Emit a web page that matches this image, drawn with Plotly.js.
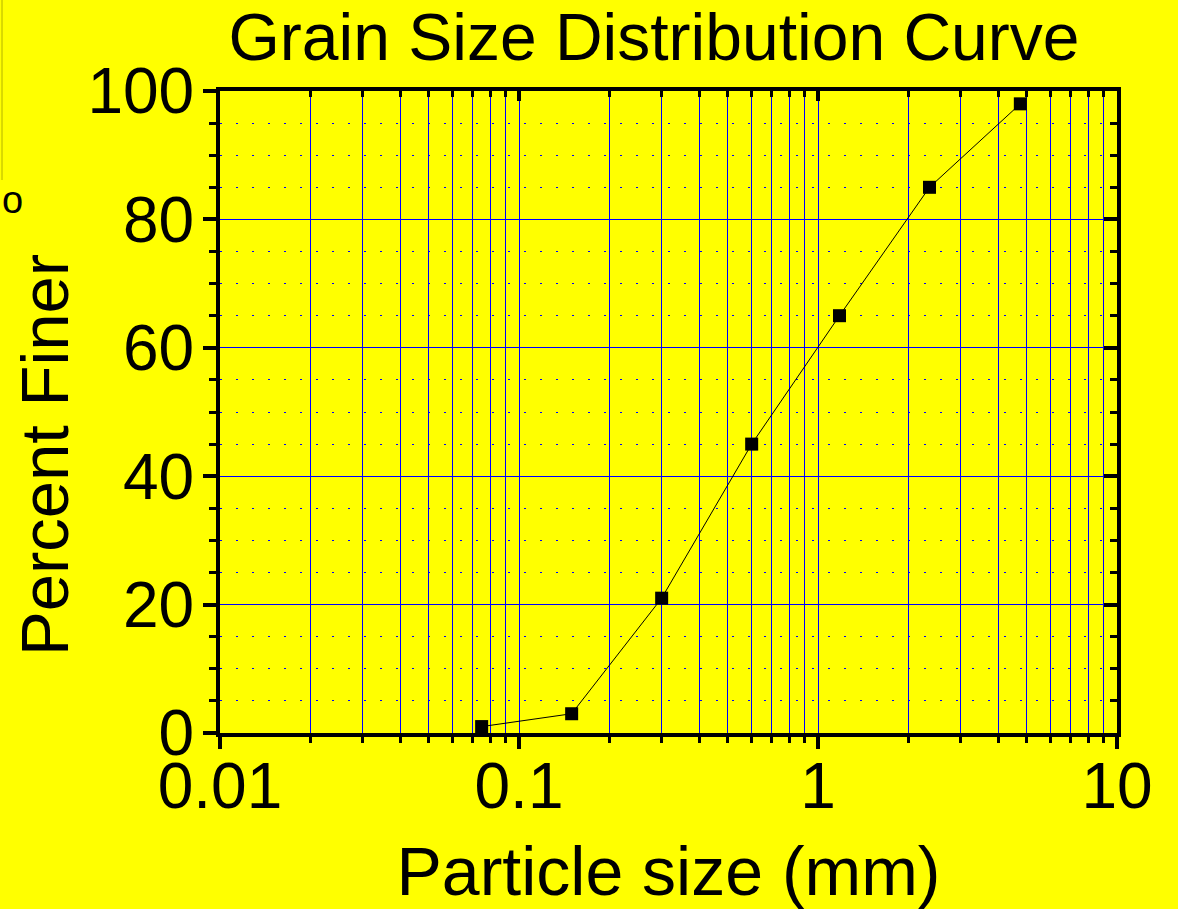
<!DOCTYPE html>
<html>
<head>
<meta charset="utf-8">
<script src="https://cdn.plot.ly/plotly-3.0.1.min.js"></script>
<style>
html,body{margin:0;padding:0;background:#ffff00;}
#chart{width:1178px;height:909px;}
</style>
</head>
<body>
<div id="chart"></div>
<script>
// Data
const particleSize = [0.075, 0.15, 0.3, 0.6, 1.18, 2.36, 4.75];
const percentFiner = [1, 3, 21, 45, 65, 85, 98];
const xTickVals = [0.01, 0.1, 1, 10];
const xTickText = ['0.01', '0.1', '1', '10'];
const yTickVals = [0, 20, 40, 60, 80, 100];
const yTickText = ['0', '20', '40', '60', '80', '100'];

const FONT = 'Liberation Sans, Arial, sans-serif';
const BLUE = '#0000ff';

const traces = [
  {
    x: particleSize, y: percentFiner,
    type: 'scatter', mode: 'lines+markers',
    line: {color: '#000000', width: 1},
    marker: {symbol: 'square', size: 13, color: '#000000'},
    xaxis: 'x', yaxis: 'y', hoverinfo: 'x+y', showlegend: false
  },
  {
    x: [particleSize[0]], y: [percentFiner[0]],
    type: 'scatter', mode: 'markers', marker: {opacity: 0},
    xaxis: 'x2', yaxis: 'y2', hoverinfo: 'skip', showlegend: false
  }
];

const layout = {
  width: 1178, height: 909,
  paper_bgcolor: '#ffff00', plot_bgcolor: '#ffff00',
  margin: {l: 220, r: 61, t: 91, b: 176},
  font: {family: FONT, color: '#000'},
  title: {
    text: 'Grain Size Distribution Curve',
    font: {family: FONT, size: 66, color: '#000'},
    x: 654/1178, xanchor: 'center', xref: 'container',
    y: 1 - 37/909, yanchor: 'middle', yref: 'container'
  },
  showlegend: false,
  xaxis: {
    type: 'log', range: [-2, 1],
    tickvals: xTickVals, ticktext: xTickText,
    ticks: 'outside', ticklen: 12, tickwidth: 4, tickcolor: '#000',
    ticklabelstandoff: -18,
    tickfont: {family: FONT, size: 64, color: '#000'},
    showline: true, linewidth: 4, linecolor: '#000', mirror: true,
    showgrid: true, gridcolor: BLUE, gridwidth: 1,
    zeroline: false,
    minor: {dtick: 'D1', ticks: 'outside', ticklen: 6, tickwidth: 3, tickcolor: '#000',
            showgrid: true, gridcolor: BLUE, gridwidth: 1},
    title: {text: 'Particle size (mm)', font: {family: FONT, size: 68, color: '#000'}, standoff: 41}
  },
  yaxis: {
    range: [0, 100],
    tickvals: yTickVals, ticktext: yTickText,
    ticks: 'outside', ticklen: 13, tickwidth: 4, tickcolor: '#000',
    ticklabelstandoff: -4,
    tickfont: {family: FONT, size: 64, color: '#000'},
    showline: true, linewidth: 4, linecolor: '#000', mirror: true,
    showgrid: true, gridcolor: BLUE, gridwidth: 1,
    zeroline: false,
    minor: {dtick: 5, ticks: 'outside', ticklen: 7, tickwidth: 3, tickcolor: '#000',
            showgrid: true, gridcolor: BLUE, gridwidth: 1, griddash: '2px,14px'}
  },
  xaxis2: {
    type: 'log', range: [-2, 1], overlaying: 'x', side: 'top', anchor: 'y',
    tickvals: xTickVals, showticklabels: false,
    ticks: 'inside', ticklen: 10, tickwidth: 4, tickcolor: '#000',
    showline: false, showgrid: false, zeroline: false,
    minor: {dtick: 'D1', ticks: 'inside', ticklen: 6, tickwidth: 3, tickcolor: '#000', showgrid: false}
  },
  yaxis2: {
    range: [0, 100], overlaying: 'y', side: 'right', anchor: 'x',
    tickvals: yTickVals, showticklabels: false,
    ticks: 'inside', ticklen: 13, tickwidth: 4, tickcolor: '#000',
    showline: false, showgrid: false, zeroline: false,
    minor: {dtick: 5, ticks: 'inside', ticklen: 7, tickwidth: 3, tickcolor: '#000', showgrid: false}
  },
  annotations: [
    {
      text: 'Percent Finer', textangle: -90,
      xref: 'paper', yref: 'paper',
      x: (44 - 220)/897, y: (733 - 455)/642,
      xanchor: 'center', yanchor: 'middle', showarrow: false,
      font: {family: FONT, size: 67, color: '#000'}
    },
    {
      text: 'o', xref: 'paper', yref: 'paper',
      x: (12 - 220)/897, y: (733 - 200)/642,
      xanchor: 'center', yanchor: 'middle', showarrow: false,
      font: {family: FONT, size: 38, color: '#000'}
    }
  ],
  shapes: [
    {type: 'line', xref: 'paper', yref: 'paper',
     x0: (2 - 220)/897, x1: (2 - 220)/897, y0: (733 - 0)/642, y1: (733 - 180)/642,
     line: {color: '#b4b400', width: 1}}
  ]
};

Plotly.newPlot('chart', traces, layout, {displayModeBar: false, staticPlot: true});
</script>
</body>
</html>
